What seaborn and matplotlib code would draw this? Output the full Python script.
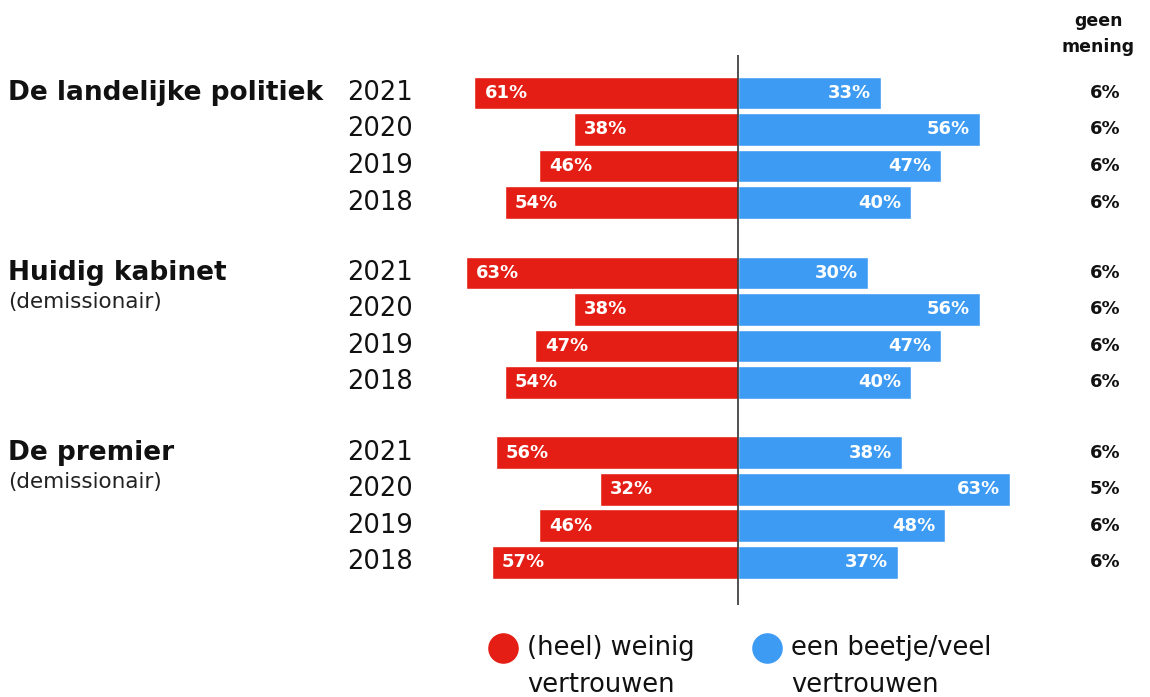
import pandas as pd
import matplotlib.pyplot as plt
from matplotlib.lines import Line2D
import seaborn as sns

groepen = ["De landelijke politiek", "Huidig kabinet", "De premier"]
toelichting = ["", "(demissionair)", "(demissionair)"]
jaren = [2021, 2020, 2019, 2018]
weinig = [[61, 38, 46, 54], [63, 38, 47, 54], [56, 32, 46, 57]]
beetje = [[33, 56, 47, 40], [30, 56, 47, 40], [38, 63, 48, 37]]
geen_mening = [[6, 6, 6, 6], [6, 6, 6, 6], [6, 5, 6, 6]]
legenda = [["(heel) weinig", "vertrouwen"], ["een beetje/veel", "vertrouwen"]]

rood = "#e41e14"
blauw = "#3d9bf4"
stap = 4.93  # afstand tussen groepen, in rijen

sns.set_style("white")
plt.rcParams["font.family"] = ["DejaVu Sans"]

rijen = []
for g in range(len(groepen)):
    for i, jaar in enumerate(jaren):
        pos = g * stap + i
        rijen.append({"pos": pos, "waarde": -weinig[g][i], "soort": "weinig"})
        rijen.append({"pos": pos, "waarde": beetje[g][i], "soort": "beetje"})
df = pd.DataFrame(rijen)

fig = plt.figure(figsize=(11.5, 6.97), dpi=100)
ax = fig.add_axes([0, 0, 1, 1])
sns.barplot(data=df, x="waarde", y="pos", hue="soort", orient="h",
            native_scale=True, dodge=False, width=0.9,
            palette={"weinig": rood, "beetje": blauw}, legend=False,
            saturation=1, ax=ax)

px = 4.32   # pixels per procent
ry = 36.5   # pixels per rij
ax.set_xlim(-738 / px, (1150 - 738) / px)
ax.set_ylim((697 - 93) / ry, -93 / ry)
ax.set_axis_off()

ax.vlines(0, -1.04, 14.03, color="#333333", lw=1.2, zorder=3)

xa = ax.get_yaxis_transform()
for g in range(len(groepen)):
    y0 = g * stap
    ax.text(0.007, y0, groepen[g], transform=xa, ha="left", va="center",
            fontsize=19, fontweight="bold", color="#111111")
    if toelichting[g]:
        ax.text(0.007, y0 + 0.8, toelichting[g], transform=xa, ha="left",
                va="center", fontsize=15.5, color="#222222")
    for i, jaar in enumerate(jaren):
        y = y0 + i
        ax.text(0.302, y, str(jaar), transform=xa, ha="left", va="center",
                fontsize=18.5, color="#111111")
        ax.text(-weinig[g][i] + 2.3, y, f"{weinig[g][i]}%", ha="left",
                va="center", fontsize=13, fontweight="bold", color="white")
        ax.text(beetje[g][i] - 2.3, y, f"{beetje[g][i]}%", ha="right",
                va="center", fontsize=13, fontweight="bold", color="white")
        ax.text(0.961, y, f"{geen_mening[g][i]}%", transform=xa,
                ha="center", va="center", fontsize=13, fontweight="bold",
                color="#111111")

fig.text(0.955, 1 - 21 / 697, "geen", ha="center", va="center",
         fontsize=12.5, fontweight="bold", color="#111111")
fig.text(0.955, 1 - 47 / 697, "mening", ha="center", va="center",
         fontsize=12.5, fontweight="bold", color="#111111")

# legenda met ronde sleutels
for kleur, regels, xs in [(rood, legenda[0], 503), (blauw, legenda[1], 767)]:
    fig.add_artist(Line2D([xs / 1150], [1 - 648 / 697], marker="o", ls="",
                          color=kleur, markersize=21,
                          transform=fig.transFigure))
    for k, regel in enumerate(regels):
        fig.text((xs + 24) / 1150, 1 - (648 + 37 * k) / 697, regel,
                 ha="left", va="center", fontsize=18.5, color="#111111")

fig.savefig("out.png", dpi=100)
